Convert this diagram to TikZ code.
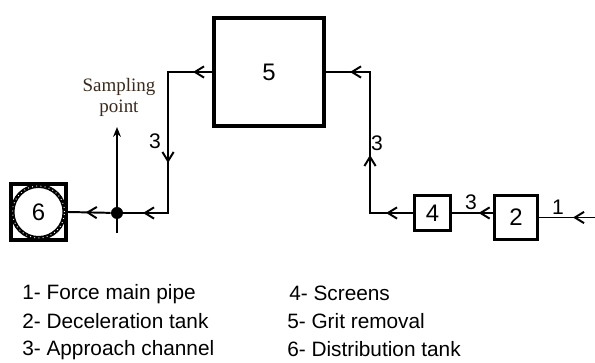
\documentclass[tikz,border=0pt]{standalone}
\usepackage{fontspec}
\setmainfont{Liberation Sans}
\newfontfamily\notefont{Liberation Serif}
\usetikzlibrary{arrows.meta,decorations.markings}
\definecolor{notebrown}{RGB}{58,42,28}
\tikzset{
  unit/.style={draw,rectangle,line width=2.1pt,inner sep=0pt,font=\fontsize{17}{20}\selectfont},
  pipe/.style={line width=1.4pt},
  flowmark/.style={postaction={decorate,decoration={markings,
      mark=at position #1 with {\arrow{Straight Barb[length=6.5pt,width=8pt]}}}}},
  chan/.style={inner sep=0pt,font=\fontsize{15}{18}\selectfont},
  legend/.style={anchor=base west,inner sep=0pt,font=\fontsize{14.8}{17}\selectfont}
}

\begin{document}
\begin{tikzpicture}
        \useasboundingbox (0,0) rectangle (14.875,9.075);
        \node[unit,line width=2.8pt,minimum width=2.75cm,minimum height=2.7cm] (N5) at (6.725,7.275) {5};
        \node[unit,minimum width=0.9cm,minimum height=0.875cm] (N4) at (10.8125,3.75) {4};
        \node[unit,minimum width=1.075cm,minimum height=1.1cm] (N2) at (12.9,3.6375) {2};
        \node[unit,line width=2.8pt,minimum width=1.375cm,minimum height=1.4cm] (N6) at (0.9625,3.775) {};
        \node[draw,circle,line width=2.8pt,minimum size=1.3cm,inner sep=0pt,font=\fontsize{17}{20}\selectfont] (C6) at (N6) {6};
        \draw[white,line width=0.7pt,dash pattern=on 0.6pt off 2.4pt] (C6.center) circle (0.65cm);
        \node[circle,fill,inner sep=0pt,minimum size=0.3cm] (J) at (2.925,3.75) {};
        \coordinate (S0) at (2.925,3.25);
        \coordinate (S1) at (2.925,5.9);
        \coordinate (IN) at (14.875,3.6375);
        \draw[pipe,-{Stealth[length=7pt,width=5.5pt]}] (S0) -- (S1);
        \draw[pipe,flowmark=0.475cm,flowmark=3.375cm,flowmark=5.25cm] (N5.west) -- ++(-1.1,0) |- (J);
        \draw[pipe,flowmark=0.625cm] (J) -- (N6.east);
        \draw[pipe,flowmark=0.675cm,flowmark=2.525cm,flowmark=5.1cm] (N4.west) -- ++(-1.075,0) |- (N5.east);
        \draw[pipe,flowmark=0.36cm] (N4.east -| N2.west) -- (N4.east);
        \draw[pipe,flowmark=0.55cm] (IN) -- (N2.east);
        \node[chan] (L3a) at (3.875,5.55) {3};
        \node[chan] (L3b) at (9.425,5.5) {3};
        \node[chan] (L3c) at (11.775,4.0125) {3};
        \node[chan] (L1) at (13.95,3.9) {1};
        \node[align=center,text=notebrown,inner sep=0pt,font=\notefont\fontsize{13.5}{15}\selectfont] (SP) at (2.975,6.65) {Sampling\\point};
        \node[legend] (T1) at (0.55,1.575) {1- Force main pipe};
        \node[legend] (T2) at (0.55,0.85) {2- Deceleration tank};
        \node[legend] (T3) at (0.55,0.175) {3- Approach channel};
        \node[legend] (T4) at (7.225,1.55) {4- Screens};
        \node[legend] (T5) at (7.175,0.85) {5- Grit removal};
        \node[legend] (T6) at (7.175,0.15) {6- Distribution tank};
      \end{tikzpicture}
\end{document}
